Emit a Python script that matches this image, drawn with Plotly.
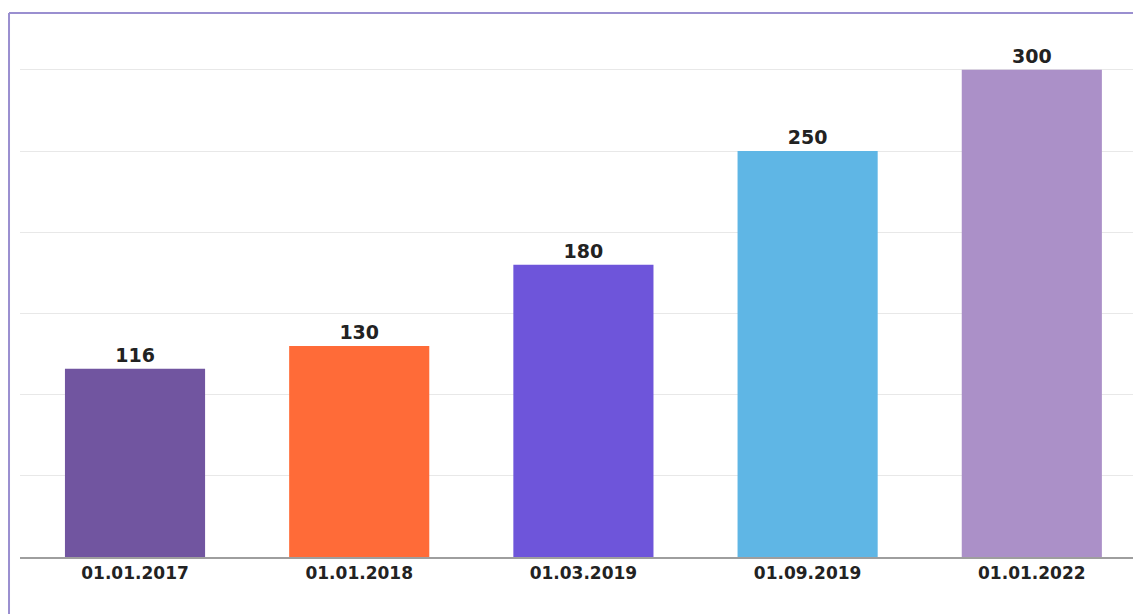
import plotly.graph_objects as go

categories = ["01.01.2017", "01.01.2018", "01.03.2019", "01.09.2019", "01.01.2022"]
values = [116, 130, 180, 250, 300]
colors = ["#7155A0", "#FF6B38", "#6E55DA", "#5FB6E5", "#AB90C8"]

fig = go.Figure(
    go.Bar(
        x=categories,
        y=values,
        marker=dict(color=colors, line=dict(width=0)),
        text=[str(v) for v in values],
        textposition="outside",
        textfont=dict(family="DejaVu Sans", size=19, color="#222222", weight="bold"),
        cliponaxis=False,
        hoverinfo="skip",
    )
)

fig.update_layout(
    width=1133,
    height=606,
    margin=dict(l=12, r=0, t=5, b=57),
    paper_bgcolor="white",
    plot_bgcolor="white",
    bargap=0.375,
    showlegend=False,
    xaxis=dict(
        range=[-0.513, 4.487],
        showgrid=False,
        showline=True,
        linecolor="#9E9E9E",
        linewidth=2,
        ticks="",
        tickfont=dict(family="DejaVu Sans", size=17, color="#222222", weight="bold"),
        fixedrange=True,
    ),
    yaxis=dict(
        range=[0, 335],
        dtick=50,
        showgrid=True,
        gridcolor="#E8E8E8",
        gridwidth=1,
        showticklabels=False,
        zeroline=False,
        fixedrange=True,
    ),
    shapes=[
        dict(type="line", xref="paper", yref="paper", x0=-0.0098, x1=1.2, y0=1.0, y1=1.0,
             line=dict(color="#9A8FD0", width=2)),
        dict(type="line", xref="paper", yref="paper", x0=-0.0098, x1=-0.0098, y0=1.0, y1=-0.2,
             line=dict(color="#9A8FD0", width=2)),
    ],
)

fig.write_html("out.html")
